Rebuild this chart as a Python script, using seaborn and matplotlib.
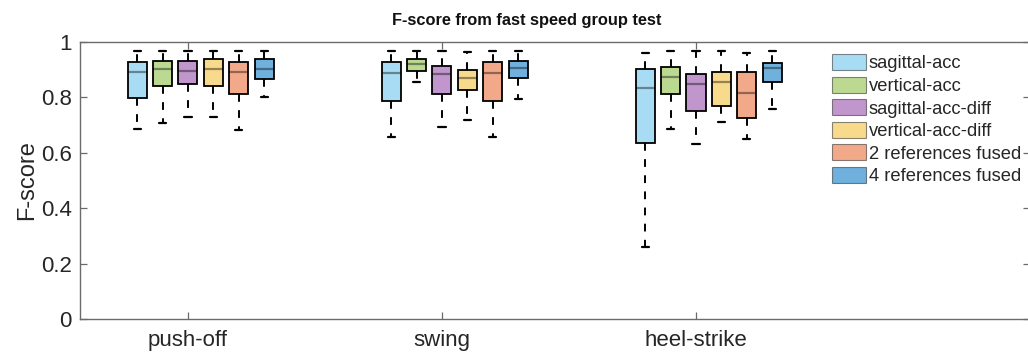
import numpy as np
import pandas as pd
import seaborn as sns
import matplotlib
matplotlib.use("Agg")
import matplotlib.pyplot as plt
from matplotlib.patches import Patch

# ---- data (five-number summaries) ----
phases = ["push-off", "swing", "heel-strike"]
methods = ["sagittal-acc", "vertical-acc", "sagittal-acc-diff",
           "vertical-acc-diff", "2 references fused", "4 references fused"]

# each entry: [lower whisker, Q1, median, Q3, upper whisker]
push_off = [
    [0.685, 0.797, 0.893, 0.927, 0.969],
    [0.709, 0.841, 0.901, 0.933, 0.969],
    [0.730, 0.847, 0.896, 0.933, 0.969],
    [0.730, 0.841, 0.903, 0.940, 0.969],
    [0.682, 0.812, 0.893, 0.927, 0.969],
    [0.803, 0.867, 0.903, 0.937, 0.969],
]
swing = [
    [0.656, 0.786, 0.889, 0.927, 0.968],
    [0.857, 0.895, 0.919, 0.937, 0.968],
    [0.692, 0.812, 0.884, 0.915, 0.968],
    [0.718, 0.827, 0.869, 0.899, 0.963],
    [0.656, 0.786, 0.889, 0.927, 0.968],
    [0.794, 0.871, 0.907, 0.933, 0.968],
]
heel_strike = [
    [0.261, 0.634, 0.835, 0.901, 0.959],
    [0.685, 0.812, 0.872, 0.909, 0.969],
    [0.631, 0.751, 0.848, 0.883, 0.969],
    [0.711, 0.769, 0.857, 0.893, 0.969],
    [0.649, 0.726, 0.815, 0.893, 0.959],
    [0.758, 0.855, 0.905, 0.923, 0.969],
]
ytick_vals = [0, 0.2, 0.4, 0.6, 0.8, 1.0]
ytick_labels = ["0", "0.2", "0.4", "0.6", "0.8", "1"]

colors = ["#a8dcf4", "#bcd992", "#c196cc", "#f8da8c", "#f2a98a", "#6fb0dd"]

# ---- long-form table ----
rows = []
for phase, summ in zip(phases, [push_off, swing, heel_strike]):
    for m, vals in zip(methods, summ):
        for v in vals:
            rows.append({"phase": phase, "method": m, "F-score": v})
df = pd.DataFrame(rows)

sns.set_theme(style="white")
plt.rcParams["font.family"] = ["Liberation Sans", "DejaVu Sans"]

fig = plt.figure(figsize=(10.28, 3.52), dpi=100)
ax = fig.add_axes([80 / 1028, 1 - 319 / 352, 950 / 1028, (319 - 42) / 352])

box_kws = dict(
    data=df, x="phase", y="F-score", hue="method", order=phases,
    hue_order=methods, palette=dict(zip(methods, colors)),
    width=0.6, gap=0.25, whis=(0, 100), linecolor="black", linewidth=1.3,
    medianprops=dict(color=(0, 0, 0, 0.4), linewidth=1.6),
    whiskerprops=dict(color="black", linestyle=(0, (4, 4.3)), linewidth=1.4),
    capprops=dict(color="black", linewidth=1.6, gid="cap"),
    saturation=1, legend=False, ax=ax,
)
try:
    sns.boxplot(capwidths=0.028, **box_kws)
except TypeError:
    ax.cla()
    sns.boxplot(**box_kws)
    # narrow the caps around their own centres
    for ln in ax.lines:
        if ln.get_gid() == "cap":
            xd = np.asarray(ln.get_xdata(), dtype=float)
            c = xd.mean()
            ln.set_xdata(c + (xd - c) * 0.74)

ax.set_ylim(0, 1)
ax.set_xlim(-0.475, 3.265)
ax.set_yticks(ytick_vals)
ax.set_yticklabels(ytick_labels)
ax.set_xticks(np.arange(len(phases)) - 0.05)
ax.set_xticklabels(phases)
ax.tick_params(direction="in", length=5, width=0.9, color="#6b6b6b",
               top=True, right=True, bottom=True, left=True,
               labelsize=16, labelcolor="#262626")
ax.tick_params(axis="y", pad=6)
ax.tick_params(axis="x", pad=8)
for s in ax.spines.values():
    s.set_color("#6b6b6b")
    s.set_linewidth(1.0)
ax.set_xlabel("")
ax.set_ylabel("F-score", fontsize=17, color="#262626", labelpad=2)
ax.set_title("F-score from fast speed group test", fontsize=11.8,
             fontweight="bold", color="#111111", x=(527 - 80) / 950, pad=12)

handles = [Patch(facecolor=c, edgecolor=(0, 0, 0, 0.45), linewidth=0.8, label=m)
           for m, c in zip(methods, colors)]
fig.legend(handles=handles, loc="upper left",
           bbox_to_anchor=(832 / 1028, 1 - 54 / 352), frameon=False,
           fontsize=13.2, handlelength=1.85, handleheight=1.0,
           handletextpad=0.15, labelspacing=0.22, borderpad=0,
           borderaxespad=0)

fig.savefig("out.png", dpi=100)
